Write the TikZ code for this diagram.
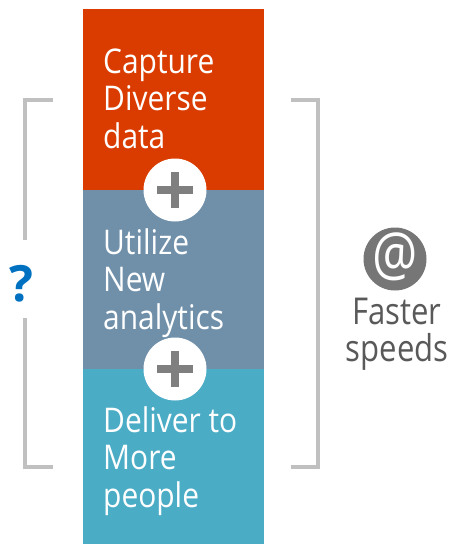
\documentclass[tikz,border=0pt]{standalone}
\usepackage{fontspec}
\setmainfont{Open Sans}
\newfontfamily\narrowfont[FakeStretch=0.88]{Open Sans}
\newfontfamily\narrowerfont[FakeStretch=0.84]{Open Sans}
\definecolor{cOrange}{HTML}{DA3C00}
\definecolor{cSlate}{HTML}{7090AA}
\definecolor{cTeal}{HTML}{4BACC6}
\definecolor{cBracket}{HTML}{C0C0C0}
\definecolor{cPlus}{HTML}{7F7F7F}
\definecolor{cAt}{HTML}{767676}
\definecolor{cText}{HTML}{595959}
\definecolor{cQ}{HTML}{0070C0}
\begin{document}
\begin{tikzpicture}[x=1pt,y=-1pt,
  boxtxt/.style={anchor=base west,inner sep=0pt,text=white,font=\narrowfont\fontsize{34}{37.5}\selectfont},
  plusbg/.style={circle,fill=white,minimum size=63pt,inner sep=0pt},
  plusbar/.style={cPlus,line width=8pt},
  brk/.style={cBracket,line width=4pt}]
\useasboundingbox (0,0) rectangle (459,546);
% boxes
\fill[cOrange] (83,9) rectangle (264,190);
\fill[cSlate] (83,190) rectangle (264,369);
\fill[cTeal] (83,369) rectangle (264,544);
% texts
\node[boxtxt] (t1) at (103,73) {\parbox[t]{160pt}{\raggedright Capture\\Diverse\\data}};
\node[boxtxt] (t2) at (103,254) {\parbox[t]{160pt}{\raggedright Utilize\\New\\analytics}};
\node[boxtxt] (t3) at (103,432) {\parbox[t]{160pt}{\raggedright Deliver to\\More\\people}};
% plus circles
\node[plusbg] (p1) at (175,190) {};
\draw[plusbar] ([xshift=-18pt]p1.center) -- ([xshift=18pt]p1.center);
\draw[plusbar] ([yshift=-18pt]p1.center) -- ([yshift=18pt]p1.center);
\node[plusbg] (p2) at (175,369) {};
\draw[plusbar] ([xshift=-18pt]p2.center) -- ([xshift=18pt]p2.center);
\draw[plusbar] ([yshift=-18pt]p2.center) -- ([yshift=18pt]p2.center);
% left bracket
\coordinate (l1) at (53,100);
\coordinate (l2) at (25,100);
\coordinate (l3) at (25,240);
\coordinate (l4) at (25,318);
\coordinate (l5) at (25,467);
\coordinate (l6) at (53,467);
\draw[brk] (l1) -- (l2) -- (l3);
\draw[brk] (l4) -- (l5) -- (l6);
\node[text=cQ,font=\bfseries\fontsize{50}{50}\selectfont,anchor=base,inner sep=0pt] (q) at (21,301) {?};
% right bracket
\coordinate (r1) at (291,100);
\coordinate (r2) at (318,100);
\coordinate (r3) at (318,467);
\coordinate (r4) at (291,467);
\draw[brk] (r1) -- (r2) -- (r3) -- (r4);
% @ circle
\node[circle,fill=cAt,minimum size=63pt,inner sep=0pt] (at) at (395,259) {};
\node[text=white,font=\narrowerfont\fontsize{60}{60}\selectfont,inner sep=0pt] (atsym) at (395,257) {@};
\node[text=cText,font=\narrowerfont\fontsize{37}{37}\selectfont,anchor=base,inner sep=0pt] (fs) at (397,324) {\parbox[t]{120pt}{\centering Faster\\speeds}};
\end{tikzpicture}
\end{document}
